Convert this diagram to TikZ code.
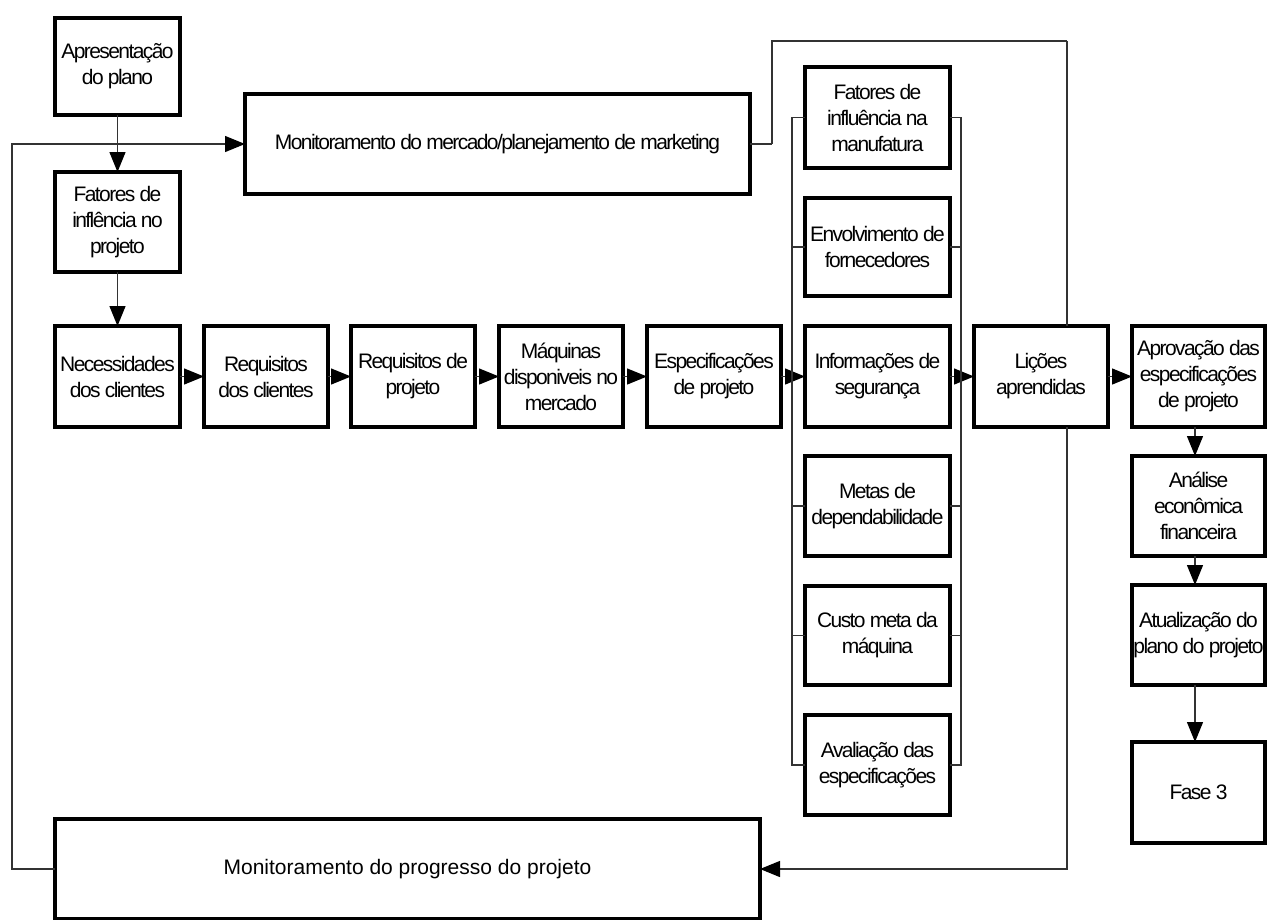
\documentclass[tikz,border=0pt]{standalone}
\usepackage{fontspec}
\setmainfont{Liberation Sans}
\newfontfamily\tightfont[LetterSpace=-7.5]{Liberation Sans}
\usetikzlibrary{arrows.meta}
\tikzset{
  box/.style={draw=black, line width=4pt, fill=white, inner sep=0pt, outer sep=0pt,
    align=center, font=\tightfont\fontsize{21}{26}\selectfont, text=black},
  conn/.style={draw=black!80, line width=1.3pt},
  arr/.style={conn, -{Triangle[length=20pt,width=16pt,black]}},
}
\begin{document}
\begin{tikzpicture}[x=1pt,y=-1pt]
\useasboundingbox (0,0) rectangle (1269,919);
% routing coordinates
\coordinate (lft) at (12,144);
\coordinate (m1) at (772,144);
\coordinate (m2) at (1067,41);
\coordinate (bl) at (792,0);
\coordinate (br) at (961,0);
\coordinate (vx) at (1195,0);
% long feedback line (behind boxes)
\draw[conn] (m1) |- (m2);
% nodes
\node[box, minimum width=125pt, minimum height=97pt] (apr) at (117.5,66.5) {Apresentação\\do plano};
\node[box, minimum width=125pt, minimum height=100pt] (fat) at (117.5,222) {Fatores de\\inflência no\\projeto};
\node[box, minimum width=505pt, minimum height=100pt] (merc) at (497.5,144) {Monitoramento do mercado/planejamento de marketing};
\node[box, minimum width=125pt, minimum height=101pt] (nec) at (117.5,376.5) {Necessidades\\dos clientes};
\node[box, minimum width=124pt, minimum height=101pt] (rc) at (266,376.5) {Requisitos\\dos clientes};
\node[box, minimum width=124pt, minimum height=101pt] (rp) at (413,376.5) {Requisitos de\\projeto};
\node[box, minimum width=124pt, minimum height=101pt] (maq) at (561,376.5) {Máquinas\\disponiveis no\\mercado};
\node[box, minimum width=134pt, minimum height=101pt] (esp) at (714,376.5) {Especificações\\de projeto};
\node[box, minimum width=145pt, minimum height=101pt] (fman) at (877.5,117.5) {Fatores de\\influência na\\manufatura};
\node[box, minimum width=145pt, minimum height=98pt] (env) at (877.5,247) {Envolvimento de\\fornecedores};
\node[box, minimum width=145pt, minimum height=101pt] (inf) at (877.5,376.5) {Informações de\\segurança};
\node[box, minimum width=145pt, minimum height=100pt] (met) at (877.5,506) {Metas de\\dependabilidade};
\node[box, minimum width=145pt, minimum height=99pt] (cus) at (877.5,635.5) {Custo meta da\\máquina};
\node[box, minimum width=145pt, minimum height=100pt] (ava) at (877.5,765) {Avaliação das\\especificações};
\node[box, minimum width=134pt, minimum height=101pt] (lic) at (1041,376.5) {Lições\\aprendidas};
\node[box, minimum width=133pt, minimum height=101pt] (apv) at (1198.5,376.5) {Aprovação das\\especificações\\de projeto};
\node[box, minimum width=133pt, minimum height=100pt] (ana) at (1198.5,506) {Análise\\econômica\\financeira};
\node[box, minimum width=133pt, minimum height=100pt] (atu) at (1198.5,635) {Atualização do\\plano do projeto};
\node[box, minimum width=133pt, minimum height=101pt] (fase) at (1198.5,792.5) {Fase 3};
\node[box, minimum width=705pt, minimum height=100pt, font=\fontsize{21}{25}\selectfont] (prog) at (407.5,869) {Monitoramento do progresso do projeto};
% vertical line through Lições
\draw[conn] (m2) -- (lic.north -| m2);
\draw[arr] (lic.south -| m2) |- (prog.east);
% connectors
\draw[arr] (apr) -- (fat);
\draw[arr] (prog.west) -| (lft) -- (merc.west);
\draw[conn] (merc.east) -- (m1);
\draw[arr] (fat) -- (nec);
\draw[arr] (nec) -- (rc);
\draw[arr] (rc) -- (rp);
\draw[arr] (rp) -- (maq);
\draw[arr] (maq) -- (esp);
\draw[arr] (esp) -- (inf);
\draw[arr] (inf) -- (lic);
\draw[arr] (lic) -- (apv);
\draw[arr] (apv.south -| vx) -- (ana.north -| vx);
\draw[arr] (ana.south -| vx) -- (atu.north -| vx);
\draw[arr] (atu.south -| vx) -- (fase.north -| vx);
% bracket around the column
\draw[conn] (fman.west) -- (fman.west -| bl) -- (ava.west -| bl) -- (ava.west);
\draw[conn] (fman.east) -- (fman.east -| br) -- (ava.east -| br) -- (ava.east);
\foreach \n in {env,met,cus}{
  \draw[conn] (\n.west) -- (\n.west -| bl);
  \draw[conn] (\n.east) -- (\n.east -| br);
}
\end{tikzpicture}
\end{document}
